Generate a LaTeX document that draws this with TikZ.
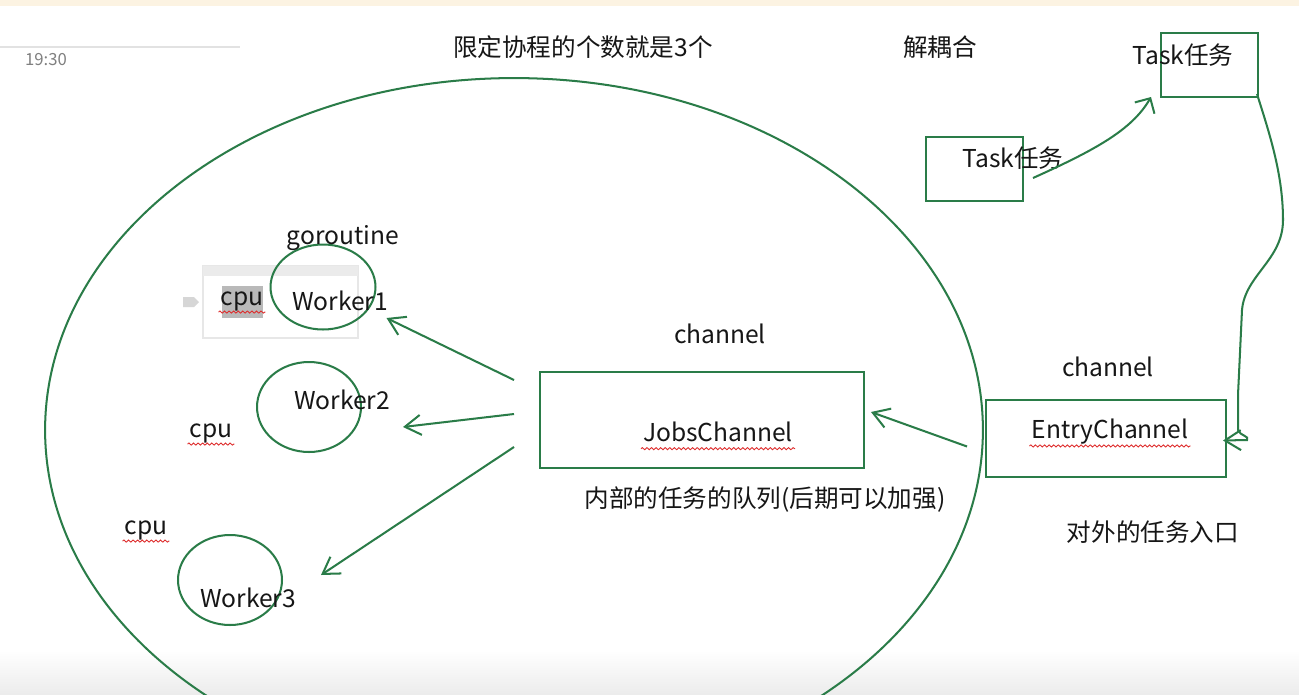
\documentclass[tikz,border=0pt]{standalone}
\usepackage{fontspec}
\setmainfont{Noto Sans CJK SC}
\usepackage{xcolor}
\usetikzlibrary{arrows.meta,positioning,shapes.geometric,calc,decorations.pathmorphing}
\definecolor{pen}{RGB}{42,124,72}
\definecolor{ink}{RGB}{22,22,22}
\definecolor{topbar}{RGB}{252,243,226}
\definecolor{botbar}{RGB}{236,236,236}
\definecolor{spell}{RGB}{222,44,44}
\definecolor{popup}{RGB}{214,214,214}

\begin{document}
\begin{tikzpicture}[
  x=0.02cm, y=-0.02cm,
  font=\fontsize{14}{16}\selectfont,
  lbl/.style={text=ink, inner sep=1pt},
  chbox/.style={draw=pen, line width=1.15pt, inner sep=0pt},
  worker/.style={draw=pen, line width=1.15pt, ellipse, inner sep=0pt, minimum width=2.08cm, minimum height=1.75cm},
  arr/.style={draw=pen, line width=1.15pt, -{Straight Barb[length=3.2mm, width=4mm]}},
  squiggle/.style={draw=spell, line width=0.5pt, decorate, decoration={snake, amplitude=0.6pt, segment length=2.6pt}},
]
\useasboundingbox (0,0) rectangle (1299,694);
\clip (0,0) rectangle (1299,694);
\fill[white] (0,0) rectangle (1299,694);
\fill[topbar] (0,0) rectangle (1299,6);
\shade[top color=white, bottom color=botbar] (0,650) rectangle (1299,694);
\draw[popup!70, line width=0.6pt] (0,47) -- (240,47);
\node[text=gray, font=\fontsize{9.5}{11}\selectfont] (clock) at (46,60) {19:30};

% toolbar left over round the first cpu
\draw[popup!60, fill=white, line width=0.6pt] (203,266) rectangle (358,338);
\fill[popup!50] (203,266) rectangle (358,276);
\fill[popup] (183,297) -- (194,297) -- (199,302) -- (194,307) -- (183,307) -- cycle;
\fill[popup!170] (222,286) rectangle (263,318);

% the pool
\draw[pen, line width=1.15pt] (514,430) ellipse [x radius=9.38cm, y radius=7.04cm];

\node[lbl] (title) at (583,47) {限定协程的个数就是3个};
\node[lbl] (decouple) at (940,47) {解耦合};

% tasks
\node[chbox, minimum width=1.94cm, minimum height=1.28cm] (task1) at (1209.5,65) {};
\node[chbox, minimum width=1.94cm, minimum height=1.28cm] (task2) at (974.5,169) {};
\node[lbl] (task1lab) at (1183,55) {Task任务};
\node[lbl] (task2lab) at (1013,158) {Task任务};
\draw[arr, -{Straight Barb[angle=90:3.2mm]}] ([shift={(9,9)}]task2.east) .. controls (1095,150) and (1132,130) .. ([shift={(-9,-1)}]task1.south west);

% channels
\node[chbox, minimum width=6.48cm, minimum height=1.92cm] (jobs) at (702,420) {};
\node[chbox, minimum width=4.8cm, minimum height=1.54cm] (entry) at (1106,438.5) {};
\node[lbl] (jobsch) at (720,334) {channel};
\node[lbl] (jobslab) at (718,432) {JobsChannel};
\node[lbl] (jobsnote) at (765,500) {内部的任务的队列(后期可以加强)};
\node[lbl] (entrych) at (1108,367) {channel};
\node[lbl] (entrylab) at (1110,432) {EntryChannel};
\node[lbl] (entrynote) at (1153,532) {对外的任务入口};

% workers
\node[worker, minimum width=2.1cm, minimum height=1.7cm] (w1) at (323,287) {};
\node[worker, minimum height=1.8cm] (w2) at (309,407) {};
\node[worker, minimum height=1.8cm] (w3) at (230,580) {};
\node[lbl] (gor) at (343,238) {goroutine};
\node[lbl] (w1lab) at (340,301) {Worker1};
\node[lbl] (w2lab) at (342,400) {Worker2};
\node[lbl] (w3lab) at (248,598) {Worker3};
\node[lbl] (cpu1) at (242,301) {cpu};
\node[lbl] (cpu2) at (211,433) {cpu};
\node[lbl] (cpu3) at (146,530) {cpu};

% spell check marks
\foreach \w in {cpu1,cpu2,cpu3,jobslab,entrylab}
  \draw[squiggle] ([yshift=-4pt]\w.base west) -- ([yshift=-4pt]\w.base east);

% flow
\draw[arr] ([shift={(-2,-4)}]task1.south east) .. controls (1270,135) and (1283,175) .. (1283,220)
  .. controls (1283,260) and (1245,275) .. (1242,310) -- (1238,395) -- (1238,430)
  .. controls (1240,436) and (1250,436) .. (1247,440) -- ([shift={(-4,2)}]entry.east);
\draw[arr] ([shift={(-18,8)}]entry.west) -- ([shift={(6,-8)}]jobs.east);
\draw[arr] ([shift={(-25,-40)}]jobs.west) -- ([shift={(10,31)}]w1.east);
\draw[arr] ([shift={(-25,-6)}]jobs.west) -- ([shift={(41,20)}]w2.east);
\draw[arr] ([shift={(-25,27)}]jobs.west) -- ([shift={(38,-5)}]w3.east);
\end{tikzpicture}
\end{document}
